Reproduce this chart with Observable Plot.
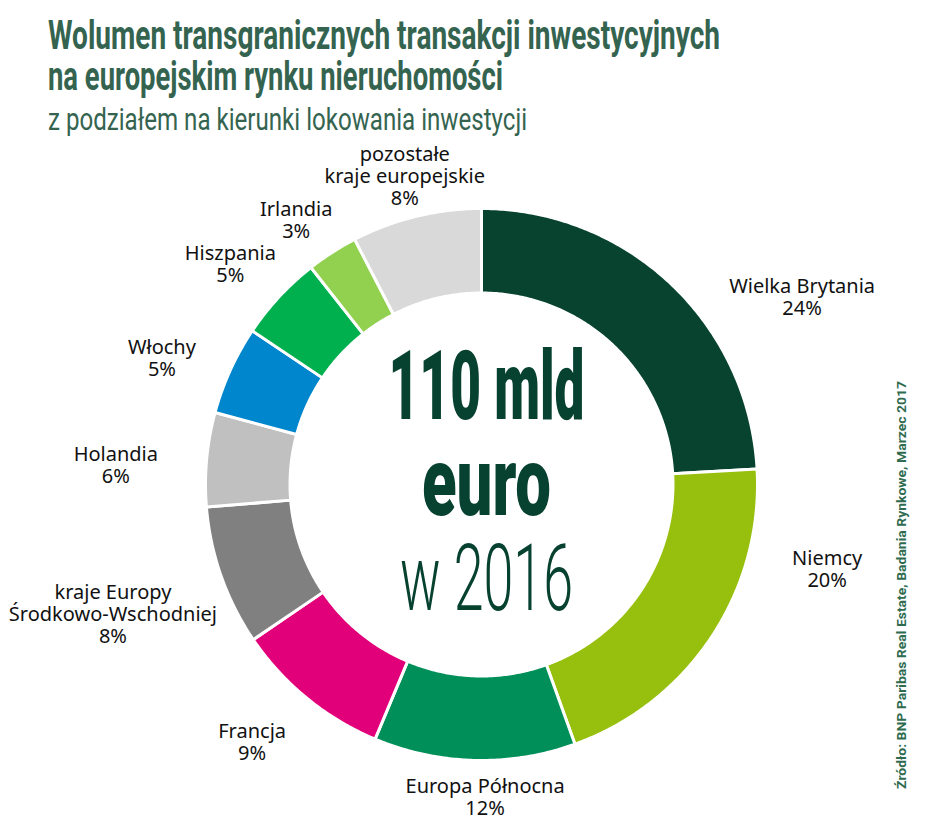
<!DOCTYPE html>
<html>
<head>
<meta charset="utf-8">
<script src="https://cdn.jsdelivr.net/npm/d3@7"></script>
<script src="https://cdn.jsdelivr.net/npm/@observablehq/plot@0.6"></script>
<style>
  html, body { margin: 0; padding: 0; background: #fff; }
  body { width: 925px; height: 825px; position: relative; overflow: hidden; }
  #head { position: relative; height: 140px; }
  .t { position: absolute; left: 48px; white-space: nowrap; line-height: 1; transform-origin: left top;
       color: #346450; font-family: Roboto, "Liberation Sans", sans-serif; }
  #t1 { top: 14.5px; font-size: 41px; font-weight: 700; }
  #t2 { top: 55.5px; font-size: 41px; font-weight: 700; }
  #t3 { top: 103px; font-size: 32px; font-weight: 400; }
  #src { position: absolute; left: 896px; top: 789px; white-space: nowrap; line-height: 1;
         font-size: 12.5px; font-weight: 700; font-family: Roboto, sans-serif; color: #2f6b4f;
         transform-origin: left top; }
  #chart svg { display: block; }
</style>
</head>
<body>
<div id="head">
  <div class="t" id="t1">Wolumen transgranicznych transakcji inwestycyjnych</div>
  <div class="t" id="t2">na europejskim rynku nieruchomości</div>
  <div class="t" id="t3">z podziałem na kierunki lokowania inwestycji</div>
</div>
<div id="chart"></div>
<div id="src">Źródło: BNP Paribas Real Estate, Badania Rynkowe, Marzec 2017</div>
<script>
// ---- data ----
const categories = [
  "Wielka Brytania",
  "Niemcy",
  "Europa Północna",
  "Francja",
  "kraje Europy\nŚrodkowo-Wschodniej",
  "Holandia",
  "Włochy",
  "Hiszpania",
  "Irlandia",
  "pozostałe\nkraje europejskie"
];
const shares   = [24.1, 20.4, 11.8, 9.2, 8.2, 5.5, 5.2, 5.0, 3.0, 7.6];   // slice sizes read from the ring
const labelPct = [24, 20, 12, 9, 8, 6, 5, 5, 3, 8];                        // printed percentages
const colors   = ["#07432f", "#97bf0d", "#008f59", "#e2007a", "#808080",
                  "#c0c0c0", "#0086cd", "#00b04f", "#92d050", "#d9d9d9"];
const centerLines = ["110 mld", "euro", "w 2016"];

// ---- layout ----
const W = 925, H = 685;
const R = 274.5;              // outer radius in px
const cx = 481, cy = 484 - 140;
const innerRatio = 0.703;
const gap = 3;                // white separator
const labelShift  = [16.3, -19.8, -2.1, 2.5, 0.1, -2.2, -2.9, -1.6, -2.2, -0.3]; // degrees
const labelRadius = [1.353, 1.296, 1.137, 1.255, 1.423, 1.334, 1.252, 1.217, 1.178, 1.157];

const total = d3.sum(shares);
let acc = 0;
const slices = categories.map((name, i) => {
  const a0 = acc / total * 2 * Math.PI;
  acc += shares[i];
  const a1 = acc / total * 2 * Math.PI;
  return {name, i, a0, a1};
});

const outerR = 1 + (gap / 2) / R;
const innerR = innerRatio - (gap / 2) / R;
const ringPts = slices.flatMap(s => {
  const n = Math.max(2, Math.ceil((s.a1 - s.a0) / (Math.PI / 360)));
  const pts = [];
  for (let k = 0; k <= n; k++) {
    const a = s.a0 + (s.a1 - s.a0) * k / n;
    pts.push({name: s.name, x: outerR * Math.sin(a), y: outerR * Math.cos(a)});
  }
  for (let k = n; k >= 0; k--) {
    const a = s.a0 + (s.a1 - s.a0) * k / n;
    pts.push({name: s.name, x: innerR * Math.sin(a), y: innerR * Math.cos(a)});
  }
  return pts;
});

const labels = slices.map(s => {
  const a = (s.a0 + s.a1) / 2 + labelShift[s.i] * Math.PI / 180;
  const r = labelRadius[s.i];
  return {x: r * Math.sin(a), y: r * Math.cos(a), text: `${s.name}\n${labelPct[s.i]}%`};
});

const centre = [{x: 0, y: 0}];
const centreText = (t, opts) => Plot.text(centre, {x: "x", y: "y", text: () => t, lineAnchor: "bottom",
  fill: "#07412f", fontFamily: "Roboto, 'Liberation Sans', sans-serif", dx: 5, ...opts});

const svg = Plot.plot({
  width: W, height: H, margin: 0,
  x: {domain: [-cx / R, (W - cx) / R], axis: null},
  y: {domain: [-(H - cy) / R, cy / R], axis: null},
  color: {domain: categories, range: colors},
  marks: [
    Plot.line(ringPts, {x: "x", y: "y", z: "name", fill: "name", stroke: "white",
      strokeWidth: gap, curve: "linear-closed"}),
    Plot.text(labels, {x: "x", y: "y", text: "text", fontFamily: "'Noto Sans', sans-serif",
      fontSize: 20, lineHeight: 1.1, fill: "#111"}),
    centreText(centerLines[0], {fontSize: 96, fontWeight: 900, dy: -66}),
    centreText(centerLines[1], {fontSize: 97, fontWeight: 900, dy: 30}),
    centreText(centerLines[2], {fontSize: 93, fontWeight: 300, dy: 125})
  ]
});
document.getElementById("chart").appendChild(svg);

// condensed look: squeeze text to the widths of the original
const centreWidths = {"110 mld": 196, "euro": 129, "w 2016": 173};
d3.select(svg).selectAll("text").each(function () {
  const t = this.textContent;
  if (centreWidths[t]) {
    this.setAttribute("textLength", centreWidths[t]);
    this.setAttribute("lengthAdjust", "spacingAndGlyphs");
  }
});

function fitX(id, w, pre = "") {
  const el = document.getElementById(id);
  const cur = el.getBoundingClientRect().width;
  el.style.transform = `${pre} scaleX(${w / cur})`;
}
fitX("t1", 672);
fitX("t2", 455);
fitX("t3", 479);
fitX("src", 408, "rotate(-90deg)");
</script>
</body>
</html>
